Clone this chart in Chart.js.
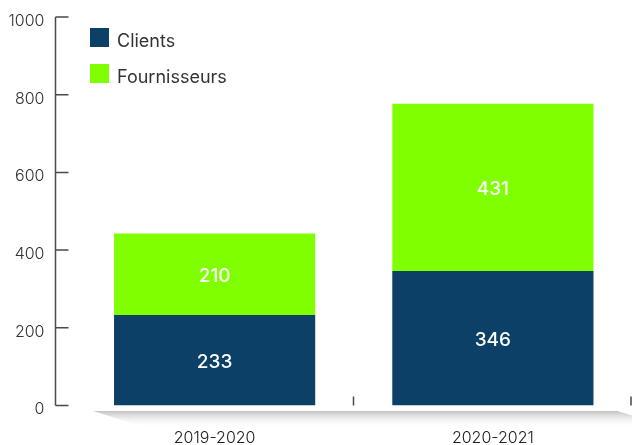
<!DOCTYPE html>
<html>
<head>
<meta charset="utf-8">
<script src="https://cdn.jsdelivr.net/npm/chart.js@4.4.0/dist/chart.umd.min.js"></script>
<style>
  body { margin: 0; background: #fff; }
  #chart { display: block; }
</style>
</head>
<body>
<canvas id="chart" width="632" height="445"></canvas>
<script>
// Data
const periods = ['2019-2020', '2020-2021'];
const clients = [233, 346];
const fournisseurs = [210, 431];
const yTicks = [0, 200, 400, 600, 800, 1000];

const navy = '#0d4066';
const green = '#80ff00';
const axisColor = '#4a4a4a';
const textColor = '#333333';
const fontFamily = "'Inter', 'Open Sans', sans-serif";

// y axis line with short ticks pointing into the plot
const axisLines = {
    id: 'axisLines',
    afterDraw(chart) {
        const ctx = chart.ctx;
        const area = chart.chartArea;
        const y = chart.scales.y;
        const x = chart.scales.x;
        const ax = Math.round(area.left - 21) + 0.5;
        ctx.save();
        ctx.strokeStyle = axisColor;
        ctx.lineWidth = 1.5;
        ctx.beginPath();
        ctx.moveTo(ax, y.getPixelForValue(yTicks[yTicks.length - 1]));
        ctx.lineTo(ax, y.getPixelForValue(0));
        yTicks.forEach(v => {
            const py = y.getPixelForValue(v);
            ctx.moveTo(ax, py);
            ctx.lineTo(ax + 13, py);
        });
        // category boundary ticks
        const half = (x.getPixelForTick(1) - x.getPixelForTick(0)) / 2;
        for (let i = 0; i < periods.length; i++) {
            const bx = x.getPixelForTick(i) + half;
            const px = Math.min(Math.round(bx) - 0.5, chart.width - 1);
            ctx.moveTo(px, area.bottom - 9);
            ctx.lineTo(px, area.bottom);
        }
        ctx.stroke();
        ctx.restore();
    }
};

// grey floor under the bars
const floor = {
    id: 'floor',
    beforeDatasetsDraw(chart) {
        const ctx = chart.ctx;
        const area = chart.chartArea;
        const top = area.bottom + 5.5;
        const bottom = area.bottom + 22;
        const grad = ctx.createLinearGradient(0, top, 0, bottom);
        grad.addColorStop(0, '#c2c2c2');
        grad.addColorStop(1, 'rgba(255,255,255,0)');
        ctx.save();
        ctx.fillStyle = grad;
        ctx.beginPath();
        ctx.moveTo(area.left + 17.5, top);
        ctx.lineTo(area.right - 14.5, top);
        ctx.lineTo(area.right + 40, bottom);
        ctx.lineTo(area.left + 70, bottom);
        ctx.closePath();
        ctx.fill();
        ctx.restore();
    }
};

// values written inside each segment
const segmentLabels = {
    id: 'segmentLabels',
    afterDatasetsDraw(chart) {
        const ctx = chart.ctx;
        ctx.save();
        ctx.font = "500 19px " + fontFamily;
        ctx.fillStyle = '#ffffff';
        ctx.textAlign = 'center';
        ctx.textBaseline = 'middle';
        chart.data.datasets.forEach((ds, di) => {
            chart.getDatasetMeta(di).data.forEach((bar, i) => {
                const mid = (bar.y + bar.base) / 2;
                ctx.fillText(ds.data[i], bar.x, mid + 2);
            });
        });
        ctx.restore();
    }
};

// legend in the top left corner of the plot
const cornerLegend = {
    id: 'cornerLegend',
    afterDraw(chart) {
        const ctx = chart.ctx;
        const area = chart.chartArea;
        ctx.save();
        ctx.font = "18px " + fontFamily;
        ctx.textBaseline = 'alphabetic';
        ctx.textAlign = 'left';
        chart.data.datasets.forEach((ds, i) => {
            const sx = area.left + 14.5;
            const sy = area.top + 11 + i * 36;
            ctx.fillStyle = ds.backgroundColor;
            ctx.fillRect(sx, sy, 19, 19);
            ctx.fillStyle = textColor;
            ctx.fillText(ds.label, sx + 27, sy + 19);
        });
        ctx.restore();
    }
};

new Chart(document.getElementById('chart'), {
    type: 'bar',
    data: {
        labels: periods,
        datasets: [
            { label: 'Clients', data: clients, backgroundColor: navy },
            { label: 'Fournisseurs', data: fournisseurs, backgroundColor: green }
        ]
    },
    options: {
        responsive: false,
        animation: false,
        layout: { padding: { top: 17, right: 0, left: 0, bottom: 0 } },
        datasets: {
            bar: { categoryPercentage: 1, barPercentage: 0.723 }
        },
        plugins: {
            legend: { display: false },
            tooltip: { enabled: false }
        },
        scales: {
            x: {
                stacked: true,
                grid: { display: false, drawTicks: false },
                border: { display: false },
                ticks: {
                    padding: 23,
                    color: '#222',
                    font: { family: fontFamily, size: 16, weight: 300 }
                },
                afterFit(scale) {
                    scale.height = 39.5;
                    scale.paddingLeft = 0;
                    scale.paddingRight = 0;
                }
            },
            y: {
                stacked: true,
                min: 0,
                max: 1000,
                grid: { display: false, drawTicks: false },
                border: { display: false },
                ticks: {
                    stepSize: 200,
                    padding: 31,
                    labelOffset: 4,
                    color: textColor,
                    font: { family: fontFamily, size: 16, weight: 300 },
                    callback: v => String(v)
                },
                afterFit(scale) {
                    scale.width = 75.5;
                    scale.paddingTop = 0;
                    scale.paddingBottom = 0;
                }
            }
        }
    },
    plugins: [floor, segmentLabels, axisLines, cornerLegend]
});
</script>
</body>
</html>
